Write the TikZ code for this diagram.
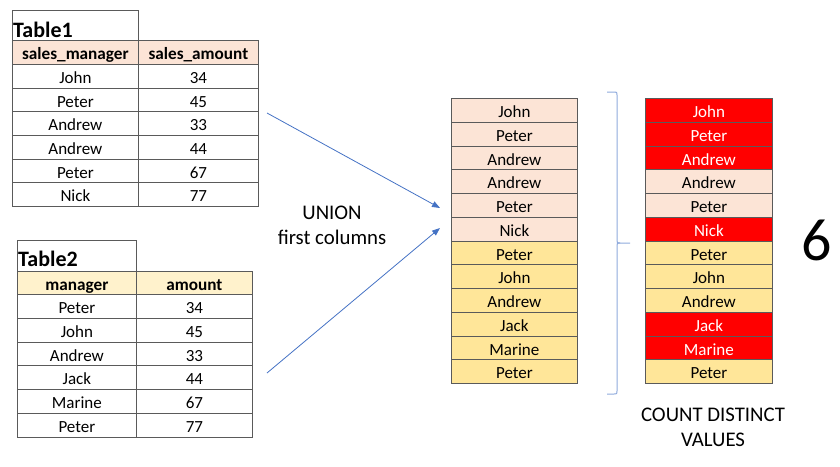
\documentclass[tikz,border=0pt]{standalone}
\usepackage{fontspec}
\setmainfont{Carlito}
\usetikzlibrary{arrows.meta}
\definecolor{peach}{HTML}{FCE4D6}
\definecolor{cream}{HTML}{FFF2CC}
\definecolor{gold}{HTML}{FFE699}
\definecolor{arrowblue}{HTML}{4472C4}
\definecolor{braceblue}{HTML}{8FAADC}
\definecolor{gridgray}{HTML}{5A5A5A}
\begin{document}
\begin{tikzpicture}[x=1pt, y=-1pt, every node/.style={font=\fontsize{17}{19}\selectfont},
	cell/.style={draw=gridgray, line width=0.8pt, anchor=north west, inner sep=0pt, minimum height=23.7pt, text height=14.5pt, text depth=0pt},
	headcell/.style={cell, font=\fontsize{17.2}{19}\selectfont\bfseries},
	titletext/.style={anchor=base west, inner sep=0pt, font=\fontsize{22}{24}\selectfont\bfseries},
	bigtext/.style={align=center, font=\fontsize{20.8}{25}\selectfont},
	>={Triangle[length=8pt, width=6pt]}]
	\useasboundingbox (0,0) rectangle (840,466);
	\node[cell, minimum width=126pt, minimum height=30pt] (t1box) at (12,10) {};
	\node[titletext] (t1name) at (13,37) {Table1};
	\node[headcell, fill=peach, minimum width=126pt, minimum height=24pt] (t1h1) at (12,40) {sales\_manager};
	\node[headcell, fill=peach, minimum width=120pt, minimum height=24pt] (t1h2) at (138,40) {sales\_amount};
	\foreach \nm/\am [count=\i] in {John/34, Peter/45, Andrew/33, Andrew/44, Peter/67, Nick/77} {
		\node[cell, minimum width=126pt] (t1a\i) at (12,{64+(\i-1)*23.67}) {\nm};
		\node[cell, minimum width=120pt] (t1b\i) at (138,{64+(\i-1)*23.67}) {\am};
	}
	\node[cell, minimum width=119pt, minimum height=31pt] (t2box) at (17,240) {};
	\node[titletext] (t2name) at (18,266) {Table2};
	\node[headcell, fill=cream, minimum width=119pt, minimum height=23pt] (t2h1) at (17,271) {manager};
	\node[headcell, fill=cream, minimum width=116pt, minimum height=23pt] (t2h2) at (136,271) {amount};
	\foreach \nm/\am [count=\i] in {Peter/34, John/45, Andrew/33, Jack/44, Marine/67, Peter/77} {
		\node[cell, minimum width=119pt, minimum height=23.8pt] (t2a\i) at (17,{294+(\i-1)*23.8}) {\nm};
		\node[cell, minimum width=116pt, minimum height=23.8pt] (t2b\i) at (136,{294+(\i-1)*23.8}) {\am};
	}
	\foreach \nm/\fc [count=\i] in {John/peach, Peter/peach, Andrew/peach, Andrew/peach, Peter/peach, Nick/peach, Peter/gold, John/gold, Andrew/gold, Jack/gold, Marine/gold, Peter/gold} {
		\node[cell, fill=\fc, minimum width=126pt, minimum height=23.75pt] (u\i) at (451,{98+(\i-1)*23.75}) {\nm};
	}
	\foreach \nm/\fc/\tc [count=\i] in {John/red/white, Peter/red/white, Andrew/red/white, Andrew/peach/black, Peter/peach/black, Nick/red/white, Peter/gold/black, John/gold/black, Andrew/gold/black, Jack/red/white, Marine/red/white, Peter/gold/black} {
		\node[cell, fill=\fc, text=\tc, minimum width=127pt, minimum height=23.75pt] (d\i) at (645,{98+(\i-1)*23.75}) {\nm};
	}
	\coordinate (a1s) at (267,113);
	\coordinate (a1e) at (440,208);
	\coordinate (a2s) at (267,373);
	\coordinate (a2e) at (440,228);
	\draw[->, arrowblue, line width=0.8pt] (a1s) -- (a1e);
	\draw[->, arrowblue, line width=0.8pt] (a2s) -- (a2e);
	\node[bigtext] (union) at (332,225) {UNION\\first columns};
	\draw[braceblue, line width=1pt] (607,92) -- (614,92) .. controls (617,92) .. (617,95) -- (617,240) .. controls (617,243) .. (620,243) -- (630,243);
	\draw[braceblue, line width=1pt] (620,243) .. controls (617,243) .. (617,246) -- (617,391) .. controls (617,394) .. (614,394) -- (607,394);
	\node[font=\fontsize{60}{62}\selectfont] (count) at (817,240) {6};
	\node[bigtext] (label) at (713,427) {COUNT DISTINCT\\VALUES};
\end{tikzpicture}
\end{document}
